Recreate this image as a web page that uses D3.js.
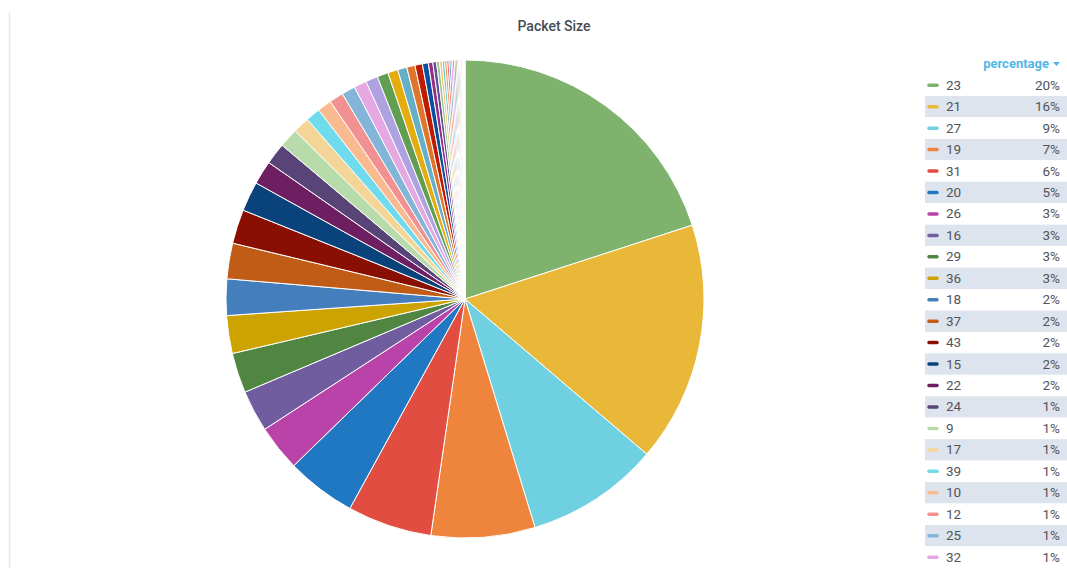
<!DOCTYPE html>
<html lang="en">
<head>
    <meta charset="UTF-8">
    <title>Packet Size</title>
    <script src="https://d3js.org/d3.v7.min.js"></script>
    <style>
        body {
            margin: 0;
            background: #fff;
            font-family: Roboto, "Noto Sans", sans-serif;
            overflow: hidden;
        }
        .title {
            font-size: 14px;
            font-weight: 500;
            fill: #464c54;
            text-anchor: middle;
        }
        .legend-text {
            font-size: 13.5px;
            fill: #52545c;
        }
        .legend-head {
            font-size: 13px;
            font-weight: 700;
            fill: #52b7e8;
            text-anchor: end;
        }
    </style>
</head>
<body>
    <script>
        // packet sizes, sorted by share (legend order)
        var sizes = ["23", "21", "27", "19", "31", "20", "26", "16", "29", "36", "18", "37",
            "43", "15", "22", "24", "9", "17", "39", "10", "12", "25", "32",
            "14", "28", "33", "11", "30", "34", "13", "35", "38",
            "40", "8", "41", "42", "44", "45", "7", "46", "47", "48", "49", "50",
            "6", "51", "52", "53", "5", "54", "55", "56", "57", "58"];
        // share of packets, percent
        var shares = [19.95, 16.2, 9.0, 7.0, 5.7, 4.7, 3.1, 2.8, 2.7, 2.55, 2.45, 2.4,
            2.3, 2.0, 1.6, 1.45, 1.3, 1.1, 0.98, 0.96, 0.95, 0.92, 0.85,
            0.82, 0.75, 0.68, 0.62, 0.56, 0.5, 0.4, 0.3, 0.25,
            0.2, 0.18, 0.16, 0.15, 0.14, 0.13, 0.12, 0.11, 0.1, 0.09, 0.08, 0.07,
            0.06, 0.05, 0.05, 0.04, 0.04, 0.03, 0.03, 0.03, 0.02, 0.02];
        var palette = ["#7EB26D", "#EAB839", "#6ED0E0", "#EF843C", "#E24D42", "#1F78C1", "#BA43A9", "#705DA0",
            "#508642", "#CCA300", "#447EBC", "#C15C17", "#890F02", "#0A437C", "#6D1F62", "#584477",
            "#B7DBAB", "#F4D598", "#70DBED", "#F9BA8F", "#F29191", "#82B5D8", "#E5A8E2", "#AEA2E0",
            "#629E51", "#E5AC0E", "#64B0C8", "#E0752D", "#BF1B00", "#0A50A1", "#962D82", "#614D93",
            "#9AC48A", "#F2C96D", "#65C5DB", "#F9934E", "#EA6460", "#5195CE", "#D683CE", "#806EB7",
            "#3F6833", "#967302", "#2F575E", "#99440A", "#58140C", "#052B51", "#511749", "#3F2B5B",
            "#E0F9D7", "#FCEACA", "#CFFAFF", "#F9E2D2", "#FCE2DE", "#BADFF4", "#F9D9F9", "#DEDAF7"];

        var w = 1067;
        var h = 568;
        var cx = 465, cy = 299, r = 239;

        var data = sizes.map(function (s, i) {
            return { label: s, value: shares[i] };
        });
        var total = d3.sum(shares);

        var color = d3.scaleOrdinal()
            .domain(sizes)
            .range(palette);

        var svg = d3.select("body")
            .append("svg")
            .attr("width", w)
            .attr("height", h);

        // panel left border
        svg.append("line")
            .attr("x1", 9.5).attr("x2", 9.5)
            .attr("y1", 12).attr("y2", h)
            .attr("stroke", "#e2eaf2")
            .attr("stroke-width", 1.5);

        svg.append("text")
            .attr("class", "title")
            .attr("x", 554)
            .attr("y", 31)
            .text("Packet Size");

        var pie = d3.pie()
            .sort(null)
            .value(function (d) { return d.value; });

        var arc = d3.arc()
            .innerRadius(0)
            .outerRadius(r);

        svg.append("g")
            .attr("transform", "translate(" + cx + "," + cy + ")")
            .selectAll("path")
            .data(pie(data))
            .enter()
            .append("path")
            .attr("d", arc)
            .attr("fill", function (d) { return color(d.data.label); })
            .attr("stroke", "#fff")
            .attr("stroke-width", 1);

        // legend table (scrolls in the panel, so only rows that fit are shown)
        var lx = 925, rowH = 21.45, rowTop = 74.5;
        var nRows = Math.floor((h - rowTop) / rowH);
        var legend = svg.append("g");

        legend.append("text")
            .attr("class", "legend-head")
            .attr("x", 1049)
            .attr("y", 68)
            .text("percentage");
        legend.append("path")
            .attr("d", "M1053,62 L1060,62 L1056.5,66 Z")
            .attr("fill", "#52b7e8");

        var rows = legend.selectAll(".row")
            .data(data.slice(0, nRows))
            .enter()
            .append("g")
            .attr("class", "row")
            .attr("transform", function (d, i) {
                return "translate(0," + (rowTop + i * rowH) + ")";
            });

        rows.append("rect")
            .attr("x", lx)
            .attr("y", 0)
            .attr("width", w - lx)
            .attr("height", rowH)
            .attr("fill", function (d, i) { return i % 2 ? "#dde4ed" : "#fff"; });

        rows.append("line")
            .attr("x1", 929).attr("x2", 937)
            .attr("y1", rowH / 2).attr("y2", rowH / 2)
            .attr("stroke", function (d) { return color(d.label); })
            .attr("stroke-width", 3.5)
            .attr("stroke-linecap", "round");

        rows.append("text")
            .attr("class", "legend-text")
            .attr("x", 946)
            .attr("y", rowH / 2 + 4.5)
            .text(function (d) { return d.label; });

        rows.append("text")
            .attr("class", "legend-text")
            .attr("x", 1060)
            .attr("y", rowH / 2 + 4.5)
            .attr("text-anchor", "end")
            .text(function (d) { return Math.round(d.value / total * 100) + "%"; });
    </script>
</body>
</html>
